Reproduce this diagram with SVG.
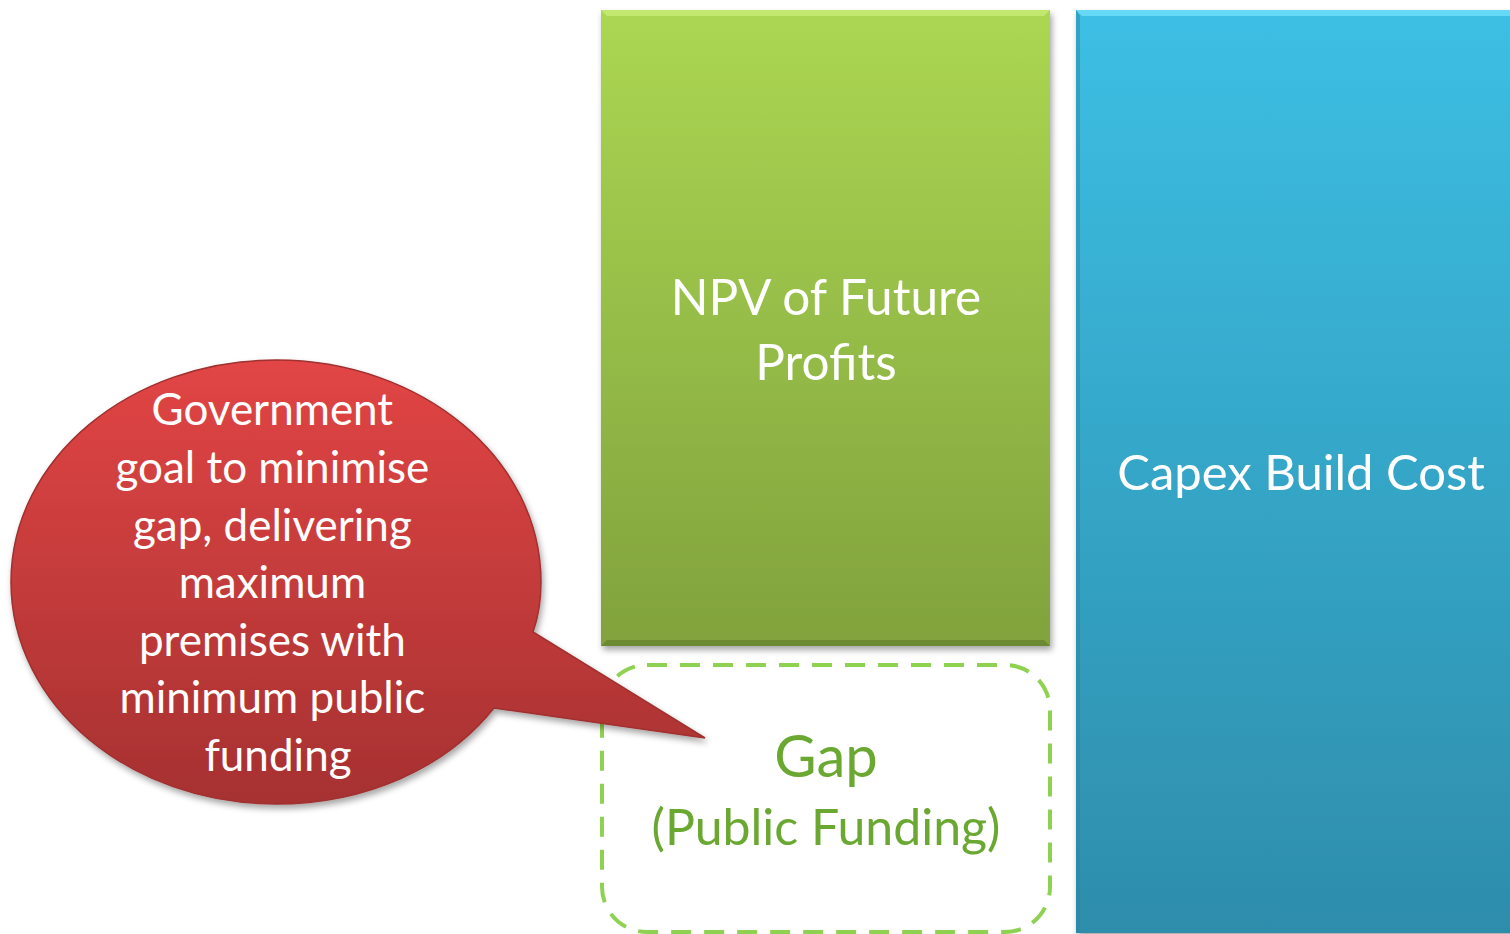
<svg xmlns="http://www.w3.org/2000/svg" width="1510" height="934" viewBox="0 0 1510 934">
<defs>
<linearGradient id="gGreen" x1="0" y1="0" x2="0" y2="1"><stop offset="0" stop-color="#abd752"/><stop offset="1" stop-color="#81a23d"/></linearGradient>
<linearGradient id="gBlue" x1="0" y1="0" x2="0" y2="1"><stop offset="0" stop-color="#3cbfe4"/><stop offset="1" stop-color="#2e8dab"/></linearGradient>
<linearGradient id="gRed" x1="0" y1="0" x2="0" y2="1"><stop offset="0" stop-color="#e24545"/><stop offset="1" stop-color="#a63131"/></linearGradient>
<filter id="sh" x="-10%" y="-10%" width="120%" height="120%"><feDropShadow dx="2" dy="4" stdDeviation="3" flood-color="#000" flood-opacity="0.35"/></filter>
<style>
.wt{font-family:Lato,"Open Sans","Liberation Sans",sans-serif;fill:#fff;text-anchor:middle}
.gt{font-family:Lato,"Open Sans","Liberation Sans",sans-serif;fill:#6aa832;text-anchor:middle}
</style>
</defs>
<g id="npv">
<rect x="601" y="10" width="449" height="636" fill="url(#gGreen)" filter="url(#sh)"/>
<path d="M601 10 H1050 L1044 16 H607 Z" fill="#c8ec78" opacity="0.8"/>
<path d="M601 646 H1050 L1044 640 H607 Z" fill="#5f7a2c" opacity="0.6"/>
<text class="wt" font-size="49.5" x="826" y="315">NPV of Future</text>
<text class="wt" font-size="49.5" x="826" y="380">Profits</text>
</g>
<g id="capex">
<rect x="1076" y="10" width="440" height="923" fill="url(#gBlue)" filter="url(#sh)"/>
<path d="M1076 10 H1516 V16 H1082 Z" fill="#6fe0fa" opacity="0.8"/>
<path d="M1076 10 V933 H1080 V16 Z" fill="#2a85a3" opacity="0.5"/>
<text class="wt" font-size="49" x="1301" y="490">Capex Build Cost</text>
</g>
<g id="gap">
<rect x="602" y="665" width="448" height="267" rx="45" fill="none" stroke="#8fd151" stroke-width="4" stroke-dasharray="20 13"/>
<text class="gt" font-size="58" x="826" y="777">Gap</text>
<text class="gt" font-size="50" x="826" y="845">(Public Funding)</text>
</g>
<g id="callout">
<path d="M276 360 C422 360 541 459 541 582 C541 600 538 618 533 632 L705 738 L494 708 C446 768 366 804 276 804 C130 804 11 705 11 582 C11 459 130 360 276 360 Z" fill="url(#gRed)" stroke="#a03030" stroke-width="1.5" filter="url(#sh)"/>
<text class="wt" font-size="44">
<tspan x="278" y="425">Government</tspan>
<tspan x="278" y="483">goal to minimise</tspan>
<tspan x="278" y="541">gap, delivering</tspan>
<tspan x="278" y="598">maximum</tspan>
<tspan x="278" y="656">premises with</tspan>
<tspan x="278" y="713">minimum public</tspan>
<tspan x="278" y="771">funding</tspan>
</text>
</g>
</svg>
